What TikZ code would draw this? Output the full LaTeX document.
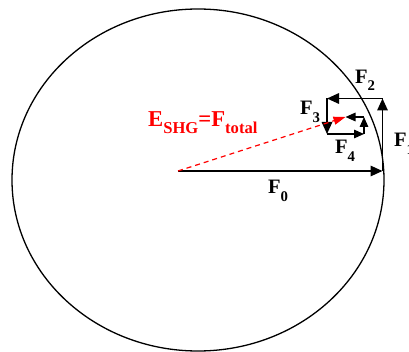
\documentclass[tikz,border=0pt]{standalone}
\usepackage{fontspec}
\setmainfont{Liberation Serif}
\usetikzlibrary{arrows.meta,shapes.geometric}
\newcommand{\flab}[2]{\fontsize{20.5}{20.5}\selectfont\bfseries #1\raisebox{-7.4pt}{\fontsize{14.8}{14.8}\selectfont\bfseries #2}}
\begin{document}
\begin{tikzpicture}[x=1pt,y=-1pt,
  vec/.style={line width=1.6pt,-{Triangle[length=12pt,width=10.5pt]}},
  vecs/.style={line width=1.5pt,-{Triangle[length=10pt,width=8.5pt]}},
  lab/.style={inner sep=0pt,anchor=base west},
  res/.style={red,dashed,dash pattern=on 5pt off 4pt,line width=1.2pt,-{Triangle[length=12pt,width=8pt]}}]
\useasboundingbox (0,0) rectangle (409,352);
\node[draw,line width=1.3pt,ellipse,minimum width=372pt,minimum height=342pt,inner sep=0pt] (circ) at (198,180) {};
\coordinate (O) at (178,171);
\coordinate (A) at (382.5,171);
\coordinate (B) at (382.5,98.5);
\coordinate (C) at (327,98.5);
\coordinate (D) at (327,134);
\coordinate (E) at (364,134);
\coordinate (G) at (364,117);
\coordinate (H) at (345.5,117);
\draw[vec] (O) -- (A);
\draw[vec] (A) -- (B);
\draw[vec] (B) -- (C);
\draw[vec] (C) -- (D);
\draw[vecs] (D) -- (E);
\draw[vecs] (E) -- (G);
\draw[vecs] (G) -- (H);
\draw[res] (O) -- (H);
\node[lab] (l0) at (268,194) {\flab{F}{0}};
\node[lab] (l1) at (394,147) {\flab{F}{1}};
\node[lab] (l2) at (355,83.3) {\flab{F}{2}};
\node[lab] (l3) at (300,115) {\flab{F}{3}};
\node[lab] (l4) at (335,154) {\flab{F}{4}};
\node[lab,red] (ls) at (148,126.7) {\fontsize{22.7}{22.7}\selectfont\bfseries E\raisebox{-6.6pt}{\fontsize{16.6}{16.6}\selectfont SHG}=F\raisebox{-6.6pt}{\fontsize{16.6}{16.6}\selectfont total}};
\end{tikzpicture}
\end{document}
